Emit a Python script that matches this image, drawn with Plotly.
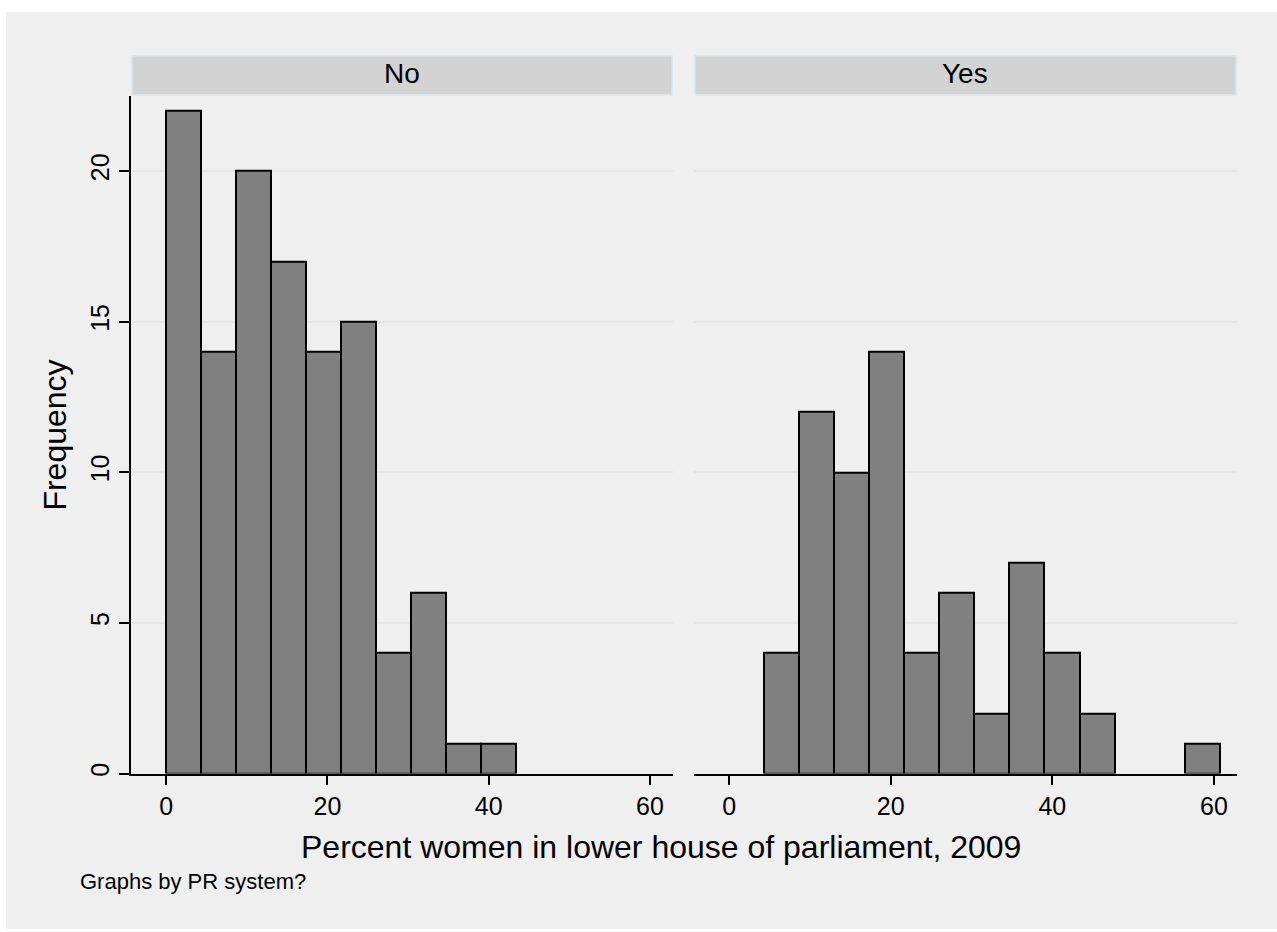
import plotly.graph_objects as go

# ---- data ----
panels = ["No", "Yes"]
bin_start = 0.0
bin_width = 4.336
n_bins = 14
counts_no = [22, 14, 20, 17, 14, 15, 4, 6, 1, 1, 0, 0, 0, 0]
counts_yes = [0, 4, 12, 10, 14, 4, 6, 2, 7, 4, 2, 0, 0, 1]
x_ticks = [0, 20, 40, 60]
y_ticks = [0, 5, 10, 15, 20]
x_title = "Percent women in lower house of parliament, 2009"
y_title = "Frequency"
note = "Graphs by PR system?"

W, H = 1277, 932
FONT = "Liberation Sans, Arial, Helvetica, sans-serif"

def px(x):
    return x / W

def py(y):
    return 1 - y / H

centers = [bin_start + bin_width * (i + 0.5) for i in range(n_bins)]

fig = go.Figure()
for counts, xa, ya in [(counts_no, "x", "y"), (counts_yes, "x2", "y2")]:
    xs = [c for c, n in zip(centers, counts) if n > 0]
    ys = [n for n in counts if n > 0]
    fig.add_trace(go.Bar(
        x=xs, y=ys, width=[bin_width] * len(xs), xaxis=xa, yaxis=ya,
        marker=dict(color="#808080", line=dict(color="black", width=2)),
        showlegend=False, hoverinfo="x+y",
    ))

xrange = [-4.35, 62.85]
yrange = [0, 22.5]
ydom = [py(776), py(96)]

common_x = dict(
    range=xrange, tickvals=x_ticks, ticks="outside", ticklen=10, tickwidth=1.5,
    tickcolor="black", showline=True, linecolor="black", linewidth=1.5,
    showgrid=False, zeroline=False, tickfont=dict(size=25, color="black", family=FONT),
    fixedrange=True,
)
fig.update_layout(
    width=W, height=H,
    margin=dict(l=0, r=0, t=0, b=0),
    paper_bgcolor="white", plot_bgcolor="white",
    font=dict(family=FONT, color="black"),
    bargap=0, barmode="overlay",
    xaxis=dict(domain=[px(131), px(673)], anchor="y", **common_x),
    xaxis2=dict(domain=[px(694), px(1237)], anchor="y2", **common_x),
    yaxis=dict(domain=ydom, range=yrange, tickvals=y_ticks, ticks="outside", ticklen=10,
               tickwidth=1.5, tickcolor="black", showline=True, linecolor="black",
               linewidth=1.5, showgrid=True, gridcolor="#e6e6e6", gridwidth=2,
               zeroline=False, tickangle=-90, anchor="x",
               tickfont=dict(size=25, color="black", family=FONT), fixedrange=True),
    yaxis2=dict(domain=ydom, range=yrange, tickvals=y_ticks, showticklabels=False,
                ticks="", showline=False, showgrid=True, gridcolor="#e6e6e6",
                gridwidth=2, zeroline=False, anchor="x2", fixedrange=True),
)

shapes = [
    # outer light-gray graph region
    dict(type="rect", xref="paper", yref="paper", x0=px(6), x1=1, y0=0, y1=py(12),
         fillcolor="#efefef", line=dict(width=0), layer="below"),
]
# strips
for x0, x1 in [(132, 672), (695, 1236)]:
    shapes.append(dict(type="rect", xref="paper", yref="paper", x0=px(x0), x1=px(x1),
                       y0=py(95), y1=py(56), fillcolor="#d3d3d3",
                       line=dict(color="#d9e6ee", width=1.5), layer="above"))
fig.update_layout(shapes=shapes)

annotations = [
    dict(text=panels[0], x=px(402), y=py(74), xref="paper", yref="paper",
         showarrow=False, font=dict(size=28, color="black"), xanchor="center", yanchor="middle"),
    dict(text=panels[1], x=px(965), y=py(74), xref="paper", yref="paper",
         showarrow=False, font=dict(size=28, color="black"), xanchor="center", yanchor="middle"),
    dict(text=x_title, x=px(661), y=py(850), xref="paper", yref="paper",
         showarrow=False, font=dict(size=32, color="black"), xanchor="center", yanchor="middle"),
    dict(text=y_title, x=px(55), y=py(437), xref="paper", yref="paper", textangle=-90,
         showarrow=False, font=dict(size=32, color="black"), xanchor="center", yanchor="middle"),
    dict(text=note, x=px(78), y=py(884), xref="paper", yref="paper",
         showarrow=False, font=dict(size=22, color="black"), xanchor="left", yanchor="middle"),
]
fig.update_layout(annotations=annotations)

fig.write_html(
    "out.html",
    config={"displayModeBar": False},
    post_script="document.body.style.margin='0';document.body.style.overflow='hidden';",
)
